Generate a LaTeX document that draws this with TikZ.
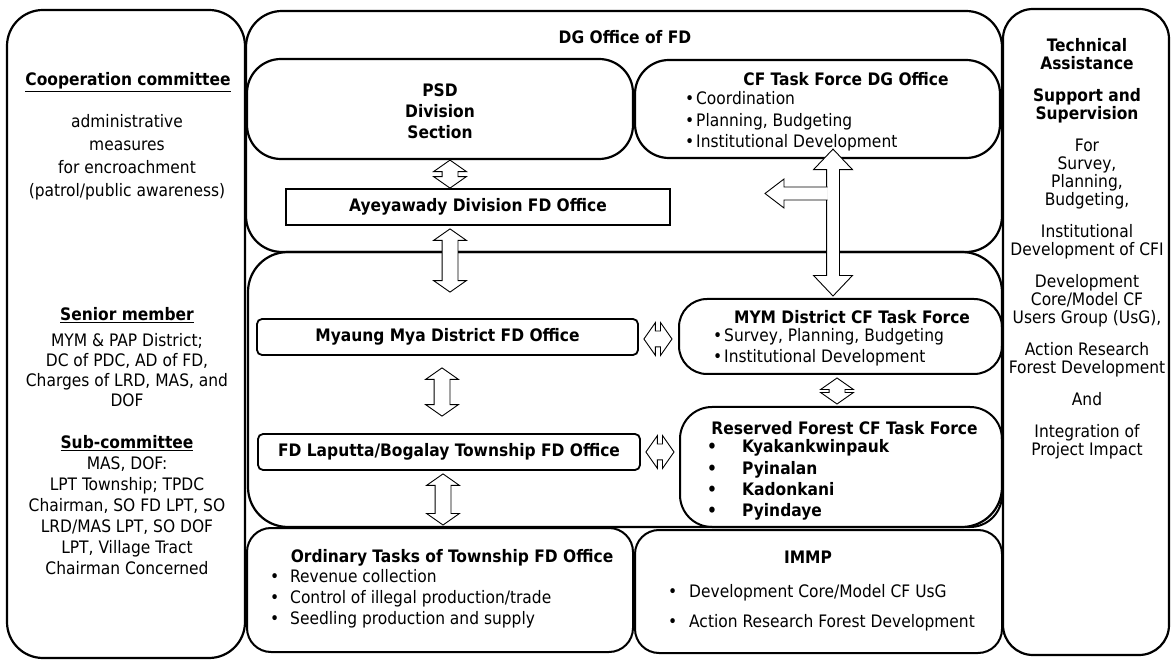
\documentclass[tikz,border=0pt]{standalone}
\usepackage{fontspec}
\setmainfont{DejaVu Sans Condensed}
\usetikzlibrary{shapes.arrows, calc}

\newcommand{\txtsize}{\fontsize{17.2}{21}\selectfont}
\newcommand{\blt}[1][11pt]{\makebox[#1][l]{\textbullet}}
\newcommand{\blockarrow}[4]{%
  \path let \p1=($(#4)-(#3)$), \n1={veclen(\x1,\y1)}, \n2={atan2(\y1,\x1)} in
    node[#1, minimum height=\n1, rotate=\n2] (#2) at ($(#3)!0.5!(#4)$) {};}

\begin{document}
\begin{tikzpicture}[x=1pt, y=-1pt,
    bigbox/.style={draw, line width=2.2pt, rounded corners=36pt},
    midbox/.style={draw, line width=2pt, rounded corners=28pt},
    smallbox/.style={draw, line width=1.8pt, rounded corners=5pt},
    plainbox/.style={draw, line width=1.8pt},
    txt/.style={font=\txtsize, inner sep=0pt},
    head/.style={font=\txtsize\bfseries, inner sep=0pt},
    dblarr/.style={double arrow, draw, fill=white, line width=0.9pt, inner xsep=0pt, inner ysep=7.5pt,
      double arrow head extend=8.5pt, double arrow tip angle=110},
    bigarr/.style={double arrow, draw, fill=white, line width=0.9pt, inner xsep=0pt, inner ysep=6pt,
      double arrow head extend=13pt, double arrow tip angle=87}]
  % page frame
  \useasboundingbox (0,0) rectangle (1171,660);

  % side columns
  \node[bigbox, minimum width=238pt, minimum height=648pt] (coop) at (126,334) {};
  \node[bigbox, rounded corners=30pt, minimum width=166pt, minimum height=646pt] (tech) at (1086,332) {};

  % DG office with its sections
  \node[bigbox, minimum width=756pt, minimum height=241pt] (dg) at (624,131.5) {};
  \node[bigbox, rounded corners=34pt, minimum width=386pt, minimum height=100pt] (psd) at (440,109) {};
  \node[bigbox, rounded corners=34pt, minimum width=365pt, minimum height=98pt] (cfdg) at (817.5,109) {};
  \node[plainbox, minimum width=384pt, minimum height=36pt] (ayw) at (478,207) {};

  % district and township level
  \node[bigbox, rounded corners=40pt, minimum width=754pt, minimum height=275pt] (dist) at (625,389.5) {};
  \node[smallbox, minimum width=381pt, minimum height=36pt] (mmd) at (447.5,337) {};
  \node[smallbox, minimum width=382pt, minimum height=36pt] (lpt) at (449,452) {};
  \node[midbox, minimum width=323pt, minimum height=75pt] (mymtf) at (840.5,336.5) {};
  \node[midbox, rounded corners=32pt, minimum width=322pt, minimum height=120pt] (rftf) at (841,467) {};

  % bottom row
  \node[midbox, rounded corners=24pt, minimum width=386pt, minimum height=124pt] (ord) at (440,590) {};
  \node[midbox, rounded corners=24pt, minimum width=367pt, minimum height=123pt] (immp) at (818.5,591.5) {};

  % left column texts
  \node[head] (cooptitle) at (128,82) {\underline{Cooperation committee}};
  \node[txt, align=center, font=\fontsize{17.2}{23}\selectfont] (cooptext) at (127,157.5)
    {administrative\\measures\\for encroachment\\(patrol/public awareness)};
  \node[head] (seniortitle) at (127,315) {\underline{Senior member}};
  \node[txt, align=center, font=\fontsize{17.2}{20}\selectfont] (seniortext) at (127,370)
    {MYM \& PAP District;\\DC of PDC, AD of FD,\\Charges of LRD, MAS, and\\DOF};
  \node[head] (subtitle) at (127,443) {\underline{Sub-committee}};
  \node[txt, align=center] (subtext) at (127,515.5)
    {MAS, DOF:\\LPT Township; TPDC\\Chairman, SO FD LPT, SO\\LRD/MAS LPT, SO DOF\\LPT, Village Tract\\Chairman Concerned};

  % right column text
  \node[txt, align=center, font=\fontsize{17.2}{18}\selectfont] (techtext) at (1087,249)
    {\textbf{Technical}\\\textbf{Assistance}\\[14pt]\textbf{Support and}\\\textbf{Supervision}\\[14pt]
     For\\Survey,\\Planning,\\Budgeting,\\[14pt]Institutional\\Development of CFI\\[14pt]
     Development\\Core/Model CF\\Users Group (UsG),\\[14pt]Action Research\\Forest Development\\[14pt]
     And\\[14pt]Integration of\\Project Impact};

  % DG office texts
  \node[head] (dgtitle) at (625,37) {DG Office of FD};
  \node[head, align=center] (psdtext) at (440,111) {PSD\\Division\\Section};
  \node[head] (cfdgtitle) at (846,79) {CF Task Force DG Office};
  \node[txt, anchor=west, align=left, font=\fontsize{17.2}{21.5}\selectfont] (cfdglist) at (685,121.5)
    {\blt Coordination\\\blt Planning, Budgeting\\\blt Institutional Development};
  \node[head] (aywtext) at (ayw.center) {Ayeyawady Division FD Office};

  % district and township texts
  \node[head] (mmdtext) at (mmd.center) {Myaung Mya District FD Office};
  \node[head] (lpttext) at (lpt.center) {FD Laputta/Bogalay Township FD Office};
  \node[head] (mymtitle) at (852,317) {MYM District CF Task Force};
  \node[txt, anchor=west, align=left] (mymlist) at (713,347.5)
    {\blt Survey, Planning, Budgeting\\\blt Institutional Development};
  \node[head] (rftitle) at (844.5,428) {Reserved Forest CF Task Force};
  \node[head, anchor=west, align=left, font=\fontsize{17.2}{21.3}\selectfont\bfseries] (rflist) at (707,480)
    {\blt[35pt]Kyakankwinpauk\\\blt[35pt]Pyinalan\\\blt[35pt]Kadonkani\\\blt[35pt]Pyindaye};

  % bottom row texts
  \node[head] (ordtitle) at (452,558) {Ordinary Tasks of Township FD Office};
  \node[txt, anchor=west, align=left] (ordlist) at (270,599)
    {\blt[20pt]Revenue collection\\\blt[20pt]Control of illegal production/trade\\\blt[20pt]Seedling production and supply};
  \node[head] (immptitle) at (808,557) {IMMP};
  \node[txt, anchor=west, align=left, font=\fontsize{17.2}{30}\selectfont] (immplist) at (668,608)
    {\blt[21pt]Development Core/Model CF UsG\\\blt[21pt]Action Research Forest Development};

  % arrow columns
  \coordinate (acol) at (450,0);
  \coordinate (tcol) at (833,0);

  % PSD <-> Ayeyawady
  \blockarrow{dblarr}{psd-ayw}{psd.south -| acol}{ayw.north -| acol}
  % Ayeyawady <-> Myaung Mya
  \coordinate (a2top) at ($(ayw.south -| acol)+(0,3)$);
  \coordinate (a2bot) at ($(mmd.north -| acol)+(0,-26)$);
  \blockarrow{dblarr}{ayw-mmd}{a2top}{a2bot}
  % Myaung Mya <-> Laputta
  \coordinate (a3top) at ($(mmd.south)+(-5.5,12)$);
  \coordinate (a3bot) at ($(lpt.north)+(-7,-17)$);
  \blockarrow{dblarr}{mmd-lpt}{a3top}{a3bot}
  % Laputta <-> ordinary tasks
  \coordinate (a4top) at ($(lpt.south)+(-6,3)$);
  \coordinate (a4bot) at ($(lpt.south |- ord.north)+(-6,-2)$);
  \blockarrow{dblarr}{lpt-ord}{a4top}{a4bot}
  % offices <-> task forces
  \coordinate (h1left) at ($(mmd.east)+(5,2)$);
  \coordinate (h1right) at ($(mymtf.west |- mmd.east)+(-6,2)$);
  \blockarrow{dblarr}{mmd-mymtf}{h1left}{h1right}
  \coordinate (h2left) at ($(lpt.east)+(5,0)$);
  \coordinate (h2right) at ($(rftf.west |- lpt.east)+(-5,0)$);
  \blockarrow{dblarr}{lpt-rftf}{h2left}{h2right}
  % MYM task force <-> reserved forest task force
  \coordinate (v1top) at ($(mymtf.south)+(-3.5,3)$);
  \coordinate (v1bot) at ($(mymtf.south |- rftf.north)+(-3.5,-2)$);
  \blockarrow{dblarr}{mymtf-rftf}{v1top}{v1bot}

  % CF task force DG office <-> MYM task force
  \coordinate (ttop) at ($(cfdg.south -| tcol)+(0,-10)$);
  \coordinate (tbot) at ($(mymtf.north -| tcol)+(0,-2)$);
  \blockarrow{bigarr}{cfdg-mymtf}{ttop}{tbot}
  % branch to the left
  \coordinate (tjoin) at (827.5,193.5);
  \filldraw[fill=white, line width=0.9pt] (tjoin) ++(0,-6.5) -- ++(-43.5,0) -- ++(0,-8)
    -- ++(-19,14.5) -- ++(19,14.5) -- ++(0,-8) -- ++(43.5,0);
\end{tikzpicture}
\end{document}
